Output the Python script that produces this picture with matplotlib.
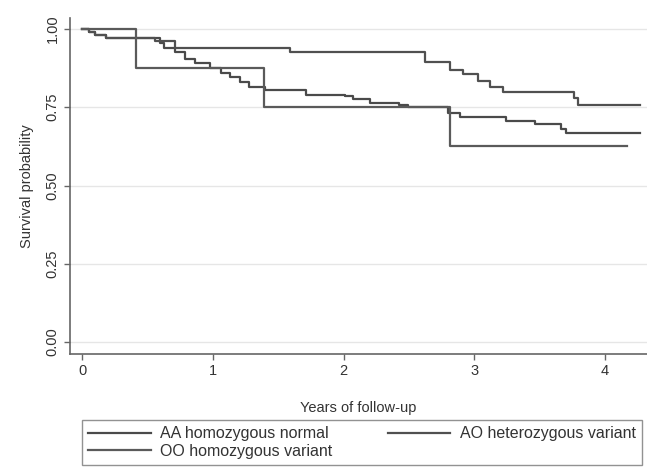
import matplotlib
matplotlib.use("Agg")
import matplotlib.pyplot as plt

plt.rcParams['font.family'] = ['Liberation Sans', 'DejaVu Sans']

# Kaplan-Meier step data (time in years, survival)
aa_time = [0, 0.05, 0.10, 0.18, 0.60, 0.63, 0.71, 0.79, 0.86, 0.90, 0.98, 1.06,
           1.13, 1.21, 1.28, 1.40, 1.71, 2.01, 2.07, 2.20, 2.42, 2.49, 2.80,
           2.89, 3.24, 3.46, 3.66, 3.70, 4.27]
aa_surv = [1.0, 0.99, 0.98, 0.97, 0.955, 0.94, 0.925, 0.905, 0.89, 0.89, 0.875,
           0.86, 0.845, 0.83, 0.815, 0.805, 0.79, 0.785, 0.775, 0.765, 0.757,
           0.75, 0.733, 0.72, 0.705, 0.695, 0.68, 0.668, 0.668]

ao_time = [0, 0.05, 0.10, 0.18, 0.56, 0.71, 1.59, 2.62, 2.81, 2.91, 3.03, 3.12,
           3.22, 3.76, 3.79, 4.27]
ao_surv = [1.0, 0.99, 0.98, 0.97, 0.96, 0.94, 0.925, 0.895, 0.87, 0.855, 0.835,
           0.815, 0.80, 0.78, 0.757, 0.757]

oo_time = [0, 0.41, 1.39, 2.81, 4.17]
oo_surv = [1.0, 0.875, 0.75, 0.625, 0.625]

labels = ['AA homozygous normal', 'AO heterozygous variant', 'OO homozygous variant']

fig = plt.figure(figsize=(6.47, 4.70), dpi=100)
ax = fig.add_axes([70 / 647, 1 - 354 / 470, 577 / 647, (354 - 18) / 470])

h1, = ax.step(aa_time, aa_surv, where='post', color='#4a4a4a', lw=1.6)
h2, = ax.step(ao_time, ao_surv, where='post', color='#505050', lw=1.6)
h3, = ax.step(oo_time, oo_surv, where='post', color='#5a5a5a', lw=1.6)

ax.set_xlim(-0.092, 4.32)
ax.set_ylim(-0.038, 1.035)
ax.set_xticks([0, 1, 2, 3, 4])
ax.set_yticks([0, 0.25, 0.5, 0.75, 1.0])
ax.set_yticklabels(['0.00', '0.25', '0.50', '0.75', '1.00'], rotation=90, va='center')
ax.tick_params(labelsize=10.5, length=4, color='#666666', width=1, labelcolor='#333333')
ax.grid(axis='y', color='#e6e6e6', lw=1)
ax.set_axisbelow(True)
for s in ['top', 'right']:
    ax.spines[s].set_visible(False)
for s in ['left', 'bottom']:
    ax.spines[s].set_color('#666666')
    ax.spines[s].set_linewidth(1.2)

ax.set_xlabel('Years of follow-up', fontsize=10.5, color='#333333', labelpad=16)
ax.set_ylabel('Survival probability', fontsize=10.5, color='#333333', labelpad=8)

# column-major order so AA and AO share the first row
fig.legend([h1, h3, h2], [labels[0], labels[2], labels[1]], loc='upper left',
           ncol=2, mode='expand',
           bbox_to_anchor=(82 / 647, 0, 560 / 647, 1 - 420 / 470),
           fontsize=11.5, handlelength=3.9, handletextpad=0.6, frameon=True,
           fancybox=False, edgecolor='#777777', labelspacing=0.15,
           borderaxespad=0, borderpad=0.4, labelcolor='#333333')

fig.savefig('out.png', dpi=100, facecolor='white')
